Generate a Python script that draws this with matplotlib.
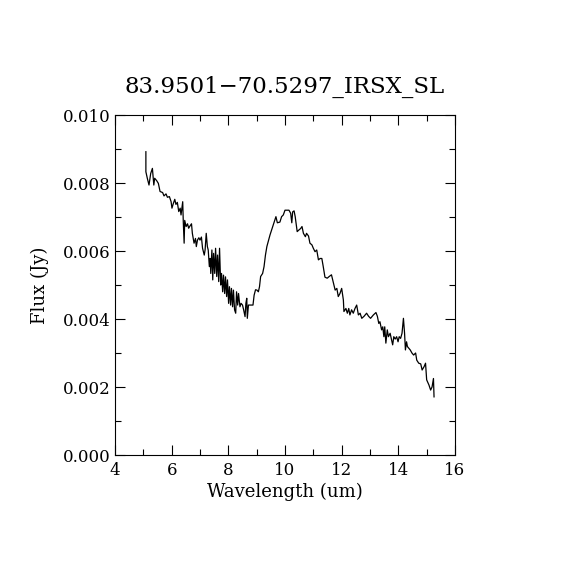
import matplotlib
matplotlib.use('Agg')
import matplotlib.pyplot as plt
from matplotlib.ticker import MultipleLocator, FormatStrFormatter

title = '83.9501\u221270.5297_IRSX_SL'

wave = [5.09, 5.09, 5.14, 5.20, 5.26, 5.32, 5.37, 5.40, 5.47, 5.53, 5.59, 5.68, 5.73, 5.80,
        5.85, 5.92, 5.98, 6.01, 6.06, 6.11, 6.15, 6.20, 6.25, 6.30, 6.33, 6.39, 6.41, 6.44,
        6.46, 6.51, 6.56, 6.60, 6.65, 6.70, 6.73, 6.79, 6.84, 6.87, 6.91, 6.96, 7.00, 7.05,
        7.09, 7.15, 7.18, 7.22, 7.26, 7.29, 7.33, 7.36, 7.38, 7.42, 7.45, 7.48, 7.52, 7.55,
        7.59, 7.62, 7.66, 7.69, 7.73, 7.76, 7.80, 7.83, 7.87, 7.90, 7.94, 7.97, 8.01, 8.04,
        8.08, 8.11, 8.15, 8.18, 8.22, 8.26, 8.29, 8.33, 8.36, 8.41, 8.45, 8.50, 8.54, 8.59,
        8.62, 8.65, 8.67, 8.71, 8.77, 8.87, 8.91, 8.96, 9.01, 9.06, 9.10, 9.14, 9.21, 9.26,
        9.31, 9.36, 9.42, 9.47, 9.56, 9.68, 9.73, 9.82, 9.88, 9.94, 10.00, 10.14, 10.20, 10.24,
        10.27, 10.32, 10.36, 10.43, 10.48, 10.55, 10.60, 10.65, 10.72, 10.76, 10.83, 10.88,
        10.95, 11.00, 11.06, 11.12, 11.18, 11.24, 11.30, 11.35, 11.41, 11.49, 11.56, 11.64,
        11.71, 11.77, 11.83, 11.88, 11.94, 12.00, 12.06, 12.08, 12.15, 12.20, 12.25, 12.29,
        12.35, 12.41, 12.47, 12.53, 12.59, 12.65, 12.71, 12.79, 12.88, 12.95, 13.02, 13.12,
        13.21, 13.26, 13.31, 13.35, 13.41, 13.45, 13.49, 13.52, 13.56, 13.61, 13.65, 13.71,
        13.75, 13.80, 13.84, 13.89, 13.94, 13.99, 14.03, 14.08, 14.13, 14.18, 14.22, 14.25,
        14.29, 14.32, 14.37, 14.42, 14.48, 14.54, 14.61, 14.65, 14.72, 14.79, 14.84, 14.91,
        14.96, 15.00, 15.08, 15.14, 15.19, 15.24, 15.26]

flux = [0.00892, 0.00833, 0.00814, 0.00794, 0.00828, 0.00843, 0.00794, 0.00814, 0.00807,
        0.00799, 0.00775, 0.00772, 0.00762, 0.00768, 0.00758, 0.00760, 0.00745, 0.00726,
        0.00740, 0.00752, 0.00737, 0.00743, 0.00716, 0.00726, 0.00706, 0.00745, 0.00686,
        0.00623, 0.00690, 0.00672, 0.00680, 0.00667, 0.00674, 0.00680, 0.00652, 0.00623,
        0.00637, 0.00613, 0.00632, 0.00639, 0.00632, 0.00641, 0.00608, 0.00588, 0.00603,
        0.00652, 0.00613, 0.00603, 0.00554, 0.00578, 0.00534, 0.00603, 0.00515, 0.00593,
        0.00534, 0.00608, 0.00525, 0.00588, 0.00510, 0.00608, 0.00500, 0.00534, 0.00480,
        0.00529, 0.00475, 0.00524, 0.00466, 0.00515, 0.00446, 0.00495, 0.00441, 0.00490,
        0.00436, 0.00485, 0.00427, 0.00417, 0.00480, 0.00441, 0.00475, 0.00436, 0.00446,
        0.00441, 0.00427, 0.00407, 0.00446, 0.00461, 0.00402, 0.00441, 0.00441, 0.00441,
        0.00470, 0.00486, 0.00485, 0.00480, 0.00495, 0.00525, 0.00534, 0.00554, 0.00588,
        0.00613, 0.00632, 0.00647, 0.00670, 0.00701, 0.00683, 0.00685, 0.00701, 0.00706,
        0.00720, 0.00720, 0.00711, 0.00683, 0.00715, 0.00718, 0.00701, 0.00657, 0.00661,
        0.00666, 0.00672, 0.00652, 0.00642, 0.00652, 0.00644, 0.00623, 0.00618, 0.00608,
        0.00598, 0.00603, 0.00574, 0.00578, 0.00578, 0.00554, 0.00523, 0.00520, 0.00525,
        0.00530, 0.00505, 0.00485, 0.00490, 0.00466, 0.00475, 0.00490, 0.00456, 0.00422,
        0.00431, 0.00417, 0.00431, 0.00412, 0.00427, 0.00417, 0.00431, 0.00441, 0.00412,
        0.00417, 0.00402, 0.00408, 0.00417, 0.00408, 0.00402, 0.00412, 0.00419, 0.00408,
        0.00387, 0.00392, 0.00368, 0.00377, 0.00348, 0.00377, 0.00329, 0.00368, 0.00348,
        0.00358, 0.00343, 0.00324, 0.00348, 0.00341, 0.00348, 0.00333, 0.00348, 0.00343,
        0.00358, 0.00402, 0.00358, 0.00309, 0.00333, 0.00319, 0.00314, 0.00309, 0.00300,
        0.00294, 0.00300, 0.00279, 0.00270, 0.00268, 0.00250, 0.00260, 0.00270, 0.00221,
        0.00206, 0.00191, 0.00200, 0.00225, 0.00171]

plt.rcParams['font.family'] = ['DejaVu Serif']

fig = plt.figure(figsize=(5.7, 5.7), dpi=100)
ax = fig.add_axes([115 / 570, 115 / 570, 340 / 570, 340 / 570])
ax.plot(wave, flux, color='black', lw=0.9)

ax.set_xlim(4, 16)
ax.set_ylim(0, 0.010)
ax.xaxis.set_major_locator(MultipleLocator(2))
ax.xaxis.set_minor_locator(MultipleLocator(1))
ax.yaxis.set_major_locator(MultipleLocator(0.002))
ax.yaxis.set_minor_locator(MultipleLocator(0.001))
ax.yaxis.set_major_formatter(FormatStrFormatter('%.3f'))
ax.tick_params(which='both', direction='in', top=True, right=True, labelsize=12, width=0.8)
ax.tick_params(which='major', length=7)
ax.tick_params(axis='x', which='major', pad=5)
ax.tick_params(axis='y', which='major', pad=3)
ax.tick_params(which='minor', length=4)
for s in ax.spines.values():
    s.set_linewidth(0.8)

ax.set_xlabel('Wavelength (um)', fontsize=13, labelpad=3)
ax.set_ylabel('Flux (Jy)', fontsize=13, labelpad=10)
ax.set_title(title, fontsize=16.5, pad=16)

fig.savefig('out.png', dpi=100)
